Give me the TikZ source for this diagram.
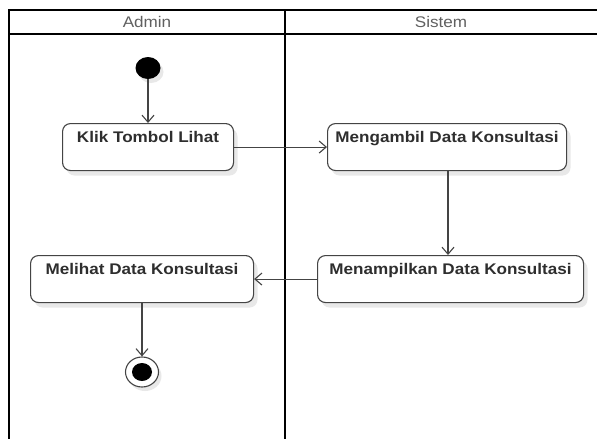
\documentclass[tikz,border=0pt]{standalone}
\usepackage{fontspec}
\newfontfamily\lblfont[FakeStretch=1.11]{Liberation Sans}
\usetikzlibrary{arrows.meta,shapes.geometric,shadows}
\definecolor{linegray}{HTML}{444444}
\definecolor{txtgray}{HTML}{2E2E2E}
\definecolor{headgray}{HTML}{606060}
\tikzset{
  act/.style={draw=linegray, line width=1.1pt, rounded corners=8pt, fill=white,
    inner sep=0pt, text height=19pt, text depth=28pt, anchor=north west,
    font=\lblfont\bfseries\fontsize{15.4}{18}\selectfont, text=txtgray,
    drop shadow={opacity=0.18, shadow xshift=4pt, shadow yshift=-5pt}},
  flow/.style={draw=linegray, line width=1.1pt, -{Straight Barb[length=7pt,width=12pt,line width=1.1pt]}},
  lane/.style={draw=black, line width=1.7pt},
  lanehead/.style={font=\lblfont\fontsize{15.4}{18}\selectfont, text=headgray, inner sep=0pt},
}
\begin{document}
\begin{tikzpicture}[x=1pt,y=-1pt]
\useasboundingbox[fill=white] (0,0) rectangle (597,439);
% swimlanes
\draw[lane] (9,439) -- (9,10) -- (597,10);
\draw[lane] (9,34) -- (597,34);
\draw[lane] (285,10) -- (285,439);
\node[lanehead] (hadmin) at (147,22) {Admin};
\node[lanehead] (hsistem) at (441,22) {Sistem};
% start
\node[ellipse, fill=black, minimum width=25pt, minimum height=22pt, inner sep=0pt,
  drop shadow={opacity=0.18, shadow xshift=3pt, shadow yshift=-4pt}] (start) at (148,68) {};
% activities
\node[act, minimum width=171pt] (klik) at (62,123) {Klik Tombol Lihat};
\node[act, minimum width=239pt] (ambil) at (327,123) {Mengambil Data Konsultasi};
\node[act, minimum width=266pt] (tampil) at (317,255) {Menampilkan Data Konsultasi};
\node[act, minimum width=223pt] (lihat) at (30,255) {Melihat Data Konsultasi};
% end
\node[ellipse, draw=linegray, line width=1.1pt, fill=white, minimum width=33pt, minimum height=30pt, inner sep=0pt,
  drop shadow={opacity=0.18, shadow xshift=3pt, shadow yshift=-4pt}] (finish) at (142,372) {};
\node[ellipse, fill=black, minimum width=20pt, minimum height=18pt, inner sep=0pt] (finishdot) at (finish.center) {};
% flows
\draw[flow] (start.south) -- (start.south |- klik.north);
\draw[flow] (klik.east) -- (klik.east -| ambil.west);
\draw[flow] (ambil.south -| 448,0) -- (tampil.north -| 448,0);
\draw[flow] (tampil.west) -- (tampil.west -| lihat.east);
\draw[flow] (lihat.south -| finish.north) -- (finish.north);
\end{tikzpicture}
\end{document}
